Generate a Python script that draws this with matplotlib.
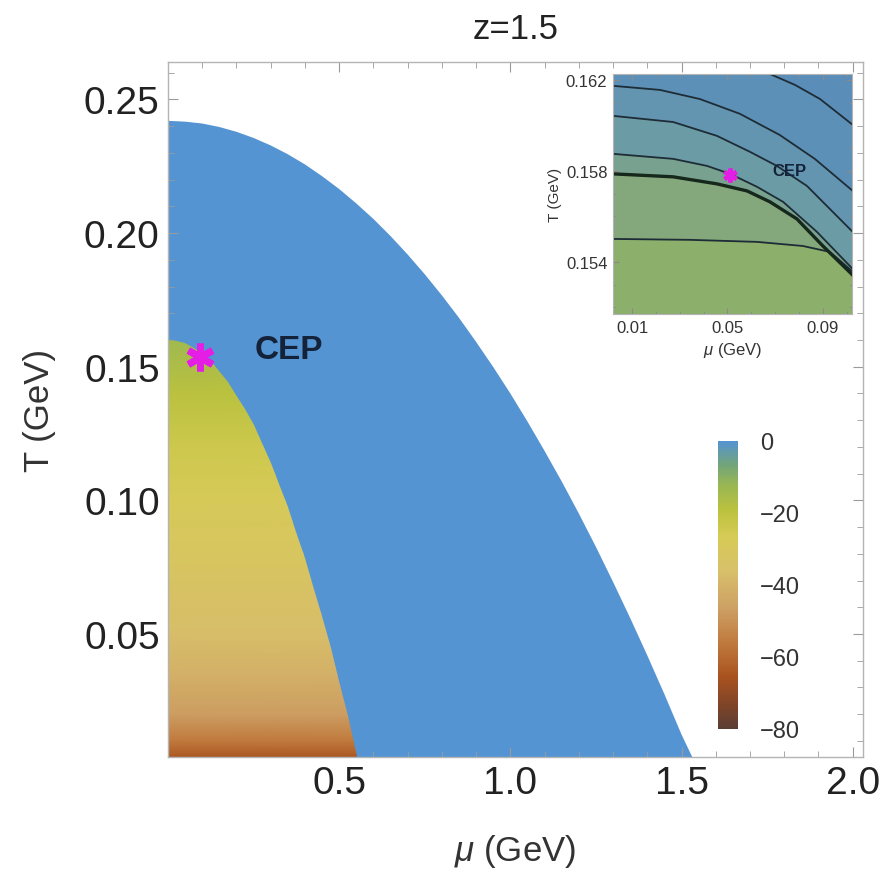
import numpy as np
import matplotlib
matplotlib.use("Agg")
import matplotlib.pyplot as plt
from matplotlib.colors import LinearSegmentedColormap, Normalize
from matplotlib.patches import Polygon
from matplotlib.ticker import MultipleLocator

plt.rcParams["font.family"] = ["Liberation Sans", "DejaVu Sans"]
plt.rcParams["mathtext.fontset"] = "custom"
plt.rcParams["mathtext.it"] = "Liberation Sans:italic"
plt.rcParams["mathtext.rm"] = "Liberation Sans"

# main panel: phase boundaries (mu in GeV, T in GeV)
outer_mu = [0.0, 0.05, 0.10, 0.15, 0.20, 0.25, 0.30, 0.35, 0.40, 0.45, 0.50, 0.55, 0.60,
            0.65, 0.70, 0.75, 0.80, 0.85, 0.90, 0.95, 1.00, 1.05, 1.10, 1.15, 1.20, 1.25,
            1.30, 1.35, 1.40, 1.45, 1.50, 1.535]
outer_T = [0.2420, 0.2417, 0.2410, 0.2397, 0.2379, 0.2356, 0.2328, 0.2295, 0.2257, 0.2213,
           0.2165, 0.2111, 0.2053, 0.1989, 0.1920, 0.1846, 0.1767, 0.1683, 0.1593, 0.1499,
           0.1400, 0.1295, 0.1185, 0.1071, 0.0951, 0.0826, 0.0695, 0.0560, 0.0420, 0.0275,
           0.0124, 0.0030]
inner_mu = [0.0, 0.025, 0.05, 0.075, 0.10, 0.125, 0.15, 0.175, 0.20, 0.225, 0.25, 0.275,
            0.30, 0.325, 0.35, 0.375, 0.40, 0.425, 0.45, 0.475, 0.50, 0.525, 0.55, 0.556]
inner_T = [0.1600, 0.1597, 0.1587, 0.1571, 0.1549, 0.1520, 0.1485, 0.1444, 0.1396, 0.1342,
           0.1281, 0.1214, 0.1141, 0.1061, 0.0975, 0.0883, 0.0784, 0.0678, 0.0567, 0.0449,
           0.0324, 0.0194, 0.0057, 0.0020]

# U inside the inner region, by temperature
U_T = [0.0, 0.005, 0.01, 0.02, 0.035, 0.05, 0.08, 0.10, 0.12, 0.14, 0.155, 0.165]
U_val = [-68, -63, -56, -47, -41, -37, -31, -28, -24, -19, -15, -13]
U_outer = 0

cep_main = (0.094, 0.1536)

# inset: contour lines (mu, T)
line_A = ([0.0678, 0.0783, 0.0888, 0.1022], [0.16226, 0.16178, 0.16116, 0.16005])
line_B = ([0.002, 0.0217, 0.0384, 0.0552, 0.0719, 0.0866, 0.1022], [0.16174, 0.16156, 0.16116, 0.16051, 0.15958, 0.15853, 0.15715])
line_C = ([0.002, 0.0272, 0.0456, 0.0594, 0.0707, 0.0833, 0.1022], [0.16042, 0.16015, 0.15954, 0.15884, 0.15822, 0.15734, 0.15535])
line_D = ([0.002, 0.0272, 0.0414, 0.0511, 0.0624, 0.0733, 0.0875, 0.1022], [0.15875, 0.15853, 0.15822, 0.15787, 0.1573, 0.15664, 0.15532, 0.15372])
line_E = ([0.002, 0.0272, 0.0456, 0.0582, 0.0678, 0.0791, 0.0900, 0.1022], [0.15787, 0.15774, 0.15743, 0.15712, 0.15664, 0.15589, 0.1547, 0.15345])
line_F = ([0.002, 0.0343, 0.0624, 0.0816, 0.0929, 0.1022], [0.15501, 0.15497, 0.15488, 0.1547, 0.15444, 0.1536])
cep_inset = (0.051, 0.1578)

cbar_ticks = [0, -20, -40, -60, -80]

cmap = LinearSegmentedColormap.from_list("u", [
    (0.00, "#5a3e34"), (0.08, "#7e4428"), (0.18, "#a9521f"), (0.30, "#c07a3e"),
    (0.42, "#cda064"), (0.55, "#d8c06a"), (0.67, "#d6cb55"), (0.76, "#bcc23e"),
    (0.85, "#98b654"), (0.92, "#72a47a"), (1.00, "#5594d3")])
norm = Normalize(-80, 0)

fig = plt.figure(figsize=(8.87, 8.78), dpi=100)
ax = fig.add_axes([0.1894, 0.1367, 0.7835, 0.7915])

ax.fill([0] + outer_mu + [outer_mu[-1]], [0] + outer_T + [0],
        color=cmap(norm(U_outer)), lw=0, zorder=1)
X, Y = np.meshgrid([0.0, 0.6], U_T)
C = np.column_stack([U_val, U_val])
mesh = ax.pcolormesh(X, Y, C, shading="gouraud", cmap=cmap, norm=norm, zorder=2)
clip = Polygon(list(zip([0] + inner_mu + [inner_mu[-1]], [0] + inner_T + [0])),
               closed=True, facecolor="none", edgecolor="none", transform=ax.transData)
ax.add_patch(clip)
mesh.set_clip_path(clip)

ax.plot(*cep_main, marker=(6, 2, 0), ms=20, mew=5, color="#e41ee4", zorder=5)
ax.text(0.254, 0.1566, "CEP", fontsize=24, weight="bold", color="#15233a",
        va="center", ha="left", zorder=5)

ax.set_xlim(0, 2.03)
ax.set_ylim(0.004, 0.264)
ax.xaxis.set_minor_locator(MultipleLocator(0.1))
ax.yaxis.set_minor_locator(MultipleLocator(0.01))
ax.set_xticks([0.5, 1.0, 1.5, 2.0])
ax.set_xticklabels(["0.5", "1.0", "1.5", "2.0"])
ax.set_yticks([0.05, 0.10, 0.15, 0.20, 0.25])
ax.set_yticklabels(["0.05", "0.10", "0.15", "0.20", "0.25"])
ax.tick_params(which="both", direction="in", top=True, right=True, color="#9a9a9a",
               labelsize=28, labelcolor="#222222")
ax.tick_params(which="major", length=7, width=0.8, pad=6)
ax.tick_params(which="minor", length=4, width=0.6)
for s in ax.spines.values():
    s.set_color("#b4b4b4")
    s.set_linewidth(1.0)
ax.set_xlabel(r"$\mathit{\mu}$ (GeV)", fontsize=25, color="#333333", labelpad=22)
ax.set_ylabel("T (GeV)", fontsize=25, color="#333333", labelpad=20)
ax.set_title("z=1.5", fontsize=25, color="#222222", pad=17)

# colorbar
cax = fig.add_axes([718 / 887, 1 - 730 / 878, 20 / 887, 288 / 878])
cb = fig.colorbar(plt.cm.ScalarMappable(norm=norm, cmap=cmap), cax=cax)
cb.outline.set_visible(False)
cb.set_ticks(cbar_ticks)
cb.set_ticklabels(["0", "\u221220", "\u221240", "\u221260", "\u221280"])
cax.tick_params(length=0, labelsize=17, labelcolor="#333333", pad=16)

# inset
ix = fig.add_axes([613 / 887, 1 - 315 / 878, 239 / 887, 240 / 878])
xl, xr = 0.002, 0.1022
yb, yt = 0.15171, 0.16226
ix.set_xlim(xl, xr)
ix.set_ylim(yb, yt)
lines = [line_F, line_E, line_D, line_C, line_B]
band_colors = ["#84a87b", "#78a28f", "#6b9ba4", "#6395b0", "#5d90b6"]
ix.fill([xl, xr, xr, xl], [yb, yb, yt, yt], color="#8daf6c", lw=0)
for (mu, T), col in zip(lines, band_colors):
    ix.fill(mu + [xr, xl], T + [yt, yt], color=col, lw=0)
ix.fill(line_A[0] + [xr], line_A[1] + [yt], color="#5a8db8", lw=0)
for mu, T in [line_A, line_B, line_C, line_D, line_F]:
    ix.plot(mu, T, color="#1d2c36", lw=1.3)
ix.plot(*line_E, color="#16281c", lw=2.4)
ix.plot(*cep_inset, marker=(6, 2, 0), ms=10, mew=3, color="#e41ee4", zorder=5)
ix.text(0.0687, 0.158, "CEP", fontsize=12, weight="bold", color="#15233a", va="center")
ix.set_xticks([0.01, 0.05, 0.09])
ix.set_xticklabels(["0.01", "0.05", "0.09"])
ix.set_yticks([0.154, 0.158, 0.162])
ix.set_yticklabels(["0.154", "0.158", "0.162"])
ix.xaxis.set_minor_locator(MultipleLocator(0.01))
ix.yaxis.set_minor_locator(MultipleLocator(0.001))
ix.tick_params(which="both", direction="in", top=True, right=True, color="#8a8a8a",
               labelsize=12, labelcolor="#333333")
ix.tick_params(which="major", length=4, pad=4)
ix.tick_params(which="minor", length=2)
for s in ix.spines.values():
    s.set_color("#b4b4b4")
ix.set_xlabel(r"$\mathit{\mu}$ (GeV)", fontsize=12, color="#333333", labelpad=4)
ix.set_ylabel("T (GeV)", fontsize=11, color="#333333", labelpad=3)

fig.savefig("out.png", dpi=100)
